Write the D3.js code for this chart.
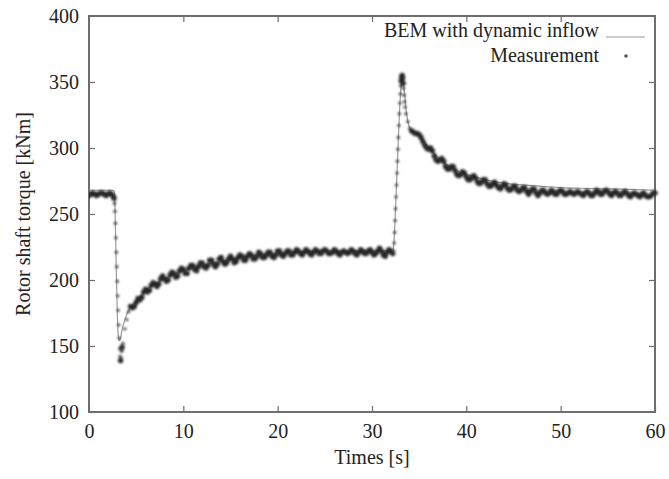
<!DOCTYPE html>
<html>
<head>
<meta charset="utf-8">
<script src="https://cdn.jsdelivr.net/npm/d3@7"></script>
<style>
  html, body { margin: 0; padding: 0; background: #fff; }
  svg { display: block; }
  text { font-family: "Liberation Serif", "Times New Roman", serif; fill: #222; }
</style>
</head>
<body>
<svg id="chart" width="669" height="479"></svg>
<script>
// ---------- Data ----------
const xTicks = [0, 10, 20, 30, 40, 50, 60];
const yTicks = [100, 150, 200, 250, 300, 350, 400];
const seriesNames = ["BEM with dynamic inflow", "Measurement"];

// BEM with dynamic inflow (simulation)
const bemTime = [0, 2.6, 2.7, 2.8, 2.9, 3.0, 3.1, 3.2, 3.3, 3.5, 3.8, 4.2, 4.6, 5, 5.5, 6, 7, 8, 9, 10, 11, 12, 14, 16, 18, 20, 22, 25, 28, 31, 32.2,
  32.3, 32.5, 32.7, 32.9, 33.1, 33.25, 33.4, 33.6, 33.8, 34.1, 34.5, 35, 35.5, 36, 37, 38, 39, 40, 41, 42, 43, 44, 45, 46, 48, 50, 52, 55, 58, 60];
const bemTorque = [268, 268, 266, 240, 205, 175, 158, 154, 155, 162, 170, 177, 181, 184, 188, 192, 197, 201, 204, 207, 209, 211, 214, 217, 219, 220, 221, 222, 222, 222, 222,
  226, 255, 290, 325, 348, 352, 345, 330, 320, 314, 312, 310, 305, 300, 293, 287, 283, 280, 278, 276, 274.5, 273.5, 272.5, 272, 271, 270, 269.5, 269, 268.5, 268];

// Measurement
const measTime = [
  0, 0.2, 0.4, 0.6, 0.8, 1.0, 1.2, 1.4, 1.6, 1.8, 2.0, 2.2, 2.4, 2.6,
  2.65, 2.7, 2.75, 2.8, 2.85, 2.9, 2.95, 3.0, 3.05, 3.1, 3.15, 3.2, 3.25, 3.3, 3.35, 3.4, 3.45, 3.5, 3.55, 3.6,
  3.8, 4.0, 4.2, 4.4, 4.6, 4.8, 5.0, 5.2, 5.4, 5.6, 5.8, 6.0, 6.2, 6.4, 6.6, 6.8, 7.0, 7.2, 7.4, 7.6, 7.8,
  8.0, 8.2, 8.4, 8.6, 8.8, 9.0, 9.2, 9.4, 9.6, 9.8, 10.0, 10.2, 10.4, 10.6, 10.8, 11.0, 11.2, 11.4, 11.6, 11.8,
  12.0, 12.2, 12.4, 12.6, 12.8, 13.0, 13.2, 13.4, 13.6, 13.8, 14.0, 14.2, 14.4, 14.6, 14.8, 15.0, 15.2, 15.4, 15.6, 15.8,
  16.0, 16.2, 16.4, 16.6, 16.8, 17.0, 17.2, 17.4, 17.6, 17.8, 18.0, 18.2, 18.4, 18.6, 18.8, 19.0, 19.2, 19.4, 19.6, 19.8,
  20.0, 20.2, 20.4, 20.6, 20.8, 21.0, 21.2, 21.4, 21.6, 21.8, 22.0, 22.2, 22.4, 22.6, 22.8, 23.0, 23.2, 23.4, 23.6, 23.8,
  24.0, 24.2, 24.4, 24.6, 24.8, 25.0, 25.2, 25.4, 25.6, 25.8, 26.0, 26.2, 26.4, 26.6, 26.8, 27.0, 27.2, 27.4, 27.6, 27.8,
  28.0, 28.2, 28.4, 28.6, 28.8, 29.0, 29.2, 29.4, 29.6, 29.8, 30.0, 30.2, 30.4, 30.6, 30.8, 31.0, 31.2, 31.4, 31.6, 31.8,
  32.0, 32.2,
  32.3, 32.35, 32.4, 32.45, 32.5, 32.55, 32.6, 32.65, 32.7, 32.75, 32.8, 32.85, 32.9, 32.95, 33.0, 33.05, 33.1, 33.15, 33.2, 33.25, 33.3, 33.35, 33.4, 33.45, 33.5,
  33.6, 33.8, 34.0, 34.2, 34.4, 34.6, 34.8, 35.0, 35.2, 35.4, 35.6, 35.8, 36.0, 36.2, 36.4, 36.6, 36.8, 37.0, 37.2, 37.4, 37.6, 37.8,
  38.0, 38.2, 38.4, 38.6, 38.8, 39.0, 39.2, 39.4, 39.6, 39.8, 40.0, 40.2, 40.4, 40.6, 40.8, 41.0, 41.2, 41.4, 41.6, 41.8,
  42.0, 42.2, 42.4, 42.6, 42.8, 43.0, 43.2, 43.4, 43.6, 43.8, 44.0, 44.2, 44.4, 44.6, 44.8, 45.0, 45.2, 45.4, 45.6, 45.8,
  46.0, 46.2, 46.4, 46.6, 46.8, 47.0, 47.2, 47.4, 47.6, 47.8, 48.0, 48.2, 48.4, 48.6, 48.8, 49.0, 49.2, 49.4, 49.6, 49.8,
  50.0, 50.2, 50.4, 50.6, 50.8, 51.0, 51.2, 51.4, 51.6, 51.8, 52.0, 52.2, 52.4, 52.6, 52.8, 53.0, 53.2, 53.4, 53.6, 53.8,
  54.0, 54.2, 54.4, 54.6, 54.8, 55.0, 55.2, 55.4, 55.6, 55.8, 56.0, 56.2, 56.4, 56.6, 56.8, 57.0, 57.2, 57.4, 57.6, 57.8,
  58.0, 58.2, 58.4, 58.6, 58.8, 59.0, 59.2, 59.4, 59.6, 59.8, 60.0
];
const measTorque = [
  264, 265, 266, 265, 264, 265, 266, 266, 265, 264, 265, 266, 265, 263,
  262, 258, 252, 243, 232, 221, 210, 199, 188, 177, 166, 156, 148, 142, 139, 141, 146, 149, 147, 152,
  163, 170, 176, 180, 179, 180, 183, 186, 185, 187, 191, 193, 191, 192, 196, 198, 197, 195, 197, 201, 203,
  201, 199, 200, 204, 206, 205, 202, 203, 207, 209, 208, 205, 205, 209, 211, 211, 208, 207, 210, 213,
  213, 210, 209, 211, 215, 215, 212, 210, 212, 216, 217, 214, 212, 213, 216, 218, 216, 213, 214, 217,
  219, 218, 215, 215, 218, 220, 219, 216, 216, 218, 221, 220, 217, 217, 219, 221, 221, 218, 217, 219,
  222, 222, 219, 218, 220, 222, 222, 219, 219, 221, 223, 222, 220, 219, 221, 223, 222, 220, 219, 221,
  223, 222, 220, 220, 222, 223, 222, 220, 220, 221, 223, 222, 220, 219, 221, 222, 221, 220, 221, 223,
  222, 220, 219, 221, 223, 222, 220, 220, 222, 223, 221, 219, 220, 222, 224, 222, 219, 218, 221, 223,
  222, 220,
  222, 228, 236, 245, 254, 263, 272, 281, 290, 299, 308, 317, 326, 334, 341, 347, 351, 354, 355, 353, 349, 345, 340, 335, 331,
  326, 320, 315, 313, 312, 311, 311, 310, 308, 305, 302, 300, 299, 300, 298, 294, 291, 290, 291, 292, 290, 286,
  284, 284, 286, 286, 283, 280, 279, 280, 282, 281, 278, 276, 276, 278, 279, 277, 274, 273, 274, 276,
  276, 273, 271, 271, 273, 274, 272, 270, 269, 271, 273, 272, 269, 268, 269, 271, 271, 268, 267, 268,
  270, 270, 267, 265, 267, 269, 269, 266, 264, 266, 268, 268, 266, 265, 266, 268, 267, 265, 265, 267,
  268, 267, 265, 265, 266, 267, 266, 265, 266, 267, 266, 265, 264, 266, 267, 266, 264, 264, 266, 268,
  267, 265, 265, 267, 268, 267, 265, 264, 266, 267, 266, 264, 264, 266, 267, 266, 264, 263, 265, 266,
  265, 264, 263, 265, 266, 264, 263, 263, 264, 266, 266
];

// ---------- Layout ----------
const W = 669, H = 479;
const margin = { top: 16, right: 14, bottom: 67, left: 89 };
const iw = W - margin.left - margin.right;
const ih = H - margin.top - margin.bottom;

const svg = d3.select("#chart");
const defs = svg.append("defs");
defs.append("filter").attr("id", "soft").attr("filterUnits", "userSpaceOnUse")
  .attr("x", 0).attr("y", 0).attr("width", W).attr("height", H)
  .append("feGaussianBlur").attr("stdDeviation", 0.9);

const g = svg.append("g").attr("transform", `translate(${margin.left},${margin.top})`);

const x = d3.scaleLinear().domain([0, 60]).range([0, iw]);
const y = d3.scaleLinear().domain([100, 400]).range([ih, 0]);

const axisColor = "#6e6e6e";
const tickLen = 6;

// Axes (ticks inward, mirrored)
const xBottom = g.append("g").attr("transform", `translate(0,${ih})`)
  .call(d3.axisBottom(x).tickValues(xTicks).tickSizeInner(-tickLen).tickSizeOuter(0).tickPadding(12));
const xTop = g.append("g")
  .call(d3.axisTop(x).tickValues(xTicks.slice(1, -1)).tickSizeInner(-tickLen).tickSizeOuter(0).tickFormat(""));
const yLeft = g.append("g")
  .call(d3.axisLeft(y).tickValues(yTicks).tickSizeInner(-tickLen).tickSizeOuter(0).tickPadding(12));
const yRight = g.append("g").attr("transform", `translate(${iw},0)`)
  .call(d3.axisRight(y).tickValues(yTicks.slice(1, -1)).tickSizeInner(-tickLen).tickSizeOuter(0).tickFormat(""));

[xBottom, xTop, yLeft, yRight].forEach(a => {
  a.attr("font-family", null);
  a.select(".domain").remove();
  a.selectAll(".tick line").attr("stroke", axisColor).attr("stroke-width", 1.2);
  a.selectAll("text").attr("font-size", 20).attr("fill", "#222");
});
yLeft.selectAll("text").attr("dx", "0.1em");

// Frame
g.append("rect").attr("x", 0).attr("y", 0).attr("width", iw).attr("height", ih)
  .attr("fill", "none").attr("stroke", axisColor).attr("stroke-width", 2);

// BEM line
const bemData = bemTime.map((t, i) => ({ t, v: bemTorque[i] }));
const line = d3.line().x(d => x(d.t)).y(d => y(d.v)).curve(d3.curveMonotoneX);
g.append("path").datum(bemData).attr("d", line)
  .attr("fill", "none").attr("stroke", "#9a9a9a").attr("stroke-width", 1.2);

// Measurement points (sparser-looking, smaller dots where the signal changes fast)
const measData = measTime.map((t, i) => {
  const dv = Math.max(
    i > 0 ? Math.abs(measTorque[i] - measTorque[i - 1]) : 0,
    i < measTorque.length - 1 ? Math.abs(measTorque[i + 1] - measTorque[i]) : 0);
  return { t, v: measTorque[i], fast: dv > 4.5 };
});
g.append("g").attr("filter", "url(#soft)").selectAll("circle").data(measData).join("circle")
  .attr("cx", d => x(d.t)).attr("cy", d => y(d.v))
  .attr("r", d => d.fast ? 1.7 : 2.7)
  .attr("fill", d => d.fast ? "#4a4a4a" : "#262626");

// Axis titles
svg.append("text").attr("x", margin.left + iw / 2).attr("y", 464)
  .attr("text-anchor", "middle").attr("font-size", 20).text("Times [s]");
svg.append("text").attr("transform", `translate(30,${margin.top + ih / 2}) rotate(-90)`)
  .attr("text-anchor", "middle").attr("font-size", 20).text("Rotor shaft torque [kNm]");

// Legend
const lg = svg.append("g");
lg.append("text").attr("x", 599).attr("y", 37).attr("text-anchor", "end").attr("font-size", 20).text(seriesNames[0]);
lg.append("line").attr("x1", 606).attr("x2", 645).attr("y1", 37).attr("y2", 37)
  .attr("stroke", "#9a9a9a").attr("stroke-width", 1.2);
lg.append("text").attr("x", 599).attr("y", 62).attr("text-anchor", "end").attr("font-size", 20).text(seriesNames[1]);
lg.append("circle").attr("cx", 626).attr("cy", 56).attr("r", 1.8).attr("fill", "#555");
</script>
</body>
</html>
